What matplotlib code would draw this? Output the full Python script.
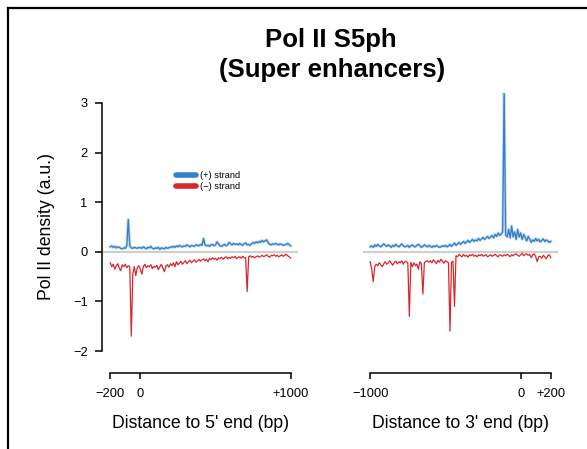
import numpy as np
import matplotlib
matplotlib.use("Agg")
import matplotlib.pyplot as plt
from matplotlib.lines import Line2D

plt.rcParams['font.family'] = ['Liberation Sans', 'DejaVu Sans']

# bins (bp) for the two panels
x5 = np.arange(-200, 1001, 10)
x3 = np.arange(-1000, 201, 10)

# 5' end, (+) strand
plus5 = [
    0.10, 0.12, 0.09, 0.11, 0.08, 0.10, 0.09, 0.07, 0.06, 0.08,
    0.07, 0.12, 0.65, 0.12, 0.08, 0.07, 0.09, 0.08, 0.07, 0.09,
    0.08, 0.07, 0.10, 0.08, 0.06, 0.09, 0.08, 0.11, 0.07, 0.06,
    0.08, 0.07, 0.09, 0.05, 0.08, 0.07, 0.06, 0.09, 0.07, 0.08,
    0.10, 0.09, 0.11, 0.09, 0.12, 0.10, 0.13, 0.11, 0.10, 0.12,
    0.11, 0.14, 0.12, 0.10, 0.13, 0.12, 0.11, 0.14, 0.13, 0.12,
    0.15, 0.13, 0.27, 0.14, 0.12, 0.13, 0.11, 0.14, 0.15, 0.12,
    0.14, 0.20, 0.16, 0.12, 0.11, 0.13, 0.15, 0.12, 0.14, 0.19,
    0.16, 0.14, 0.17, 0.15, 0.16, 0.14, 0.17, 0.15, 0.13, 0.16,
    0.18, 0.14, 0.15, 0.13, 0.16, 0.19, 0.17, 0.20, 0.18, 0.21,
    0.19, 0.23, 0.20, 0.22, 0.24, 0.18, 0.15, 0.14, 0.16, 0.15,
    0.17, 0.15, 0.14, 0.16, 0.15, 0.13, 0.14, 0.15, 0.17, 0.14,
    0.12,
]

# 5' end, (-) strand
minus5 = [
    -0.22, -0.30, -0.25, -0.35, -0.28, -0.24, -0.33, -0.38, -0.26, -0.30,
    -0.25, -0.32, -0.28, -0.30, -1.70, -0.45, -0.30, -0.48, -0.32, -0.28,
    -0.35, -0.45, -0.30, -0.25, -0.32, -0.28, -0.30, -0.26, -0.34, -0.29,
    -0.31, -0.27, -0.36, -0.30, -0.25, -0.33, -0.40, -0.29, -0.26, -0.31,
    -0.24, -0.28, -0.22, -0.30, -0.20, -0.26, -0.23, -0.19, -0.25, -0.21,
    -0.18, -0.24, -0.20, -0.17, -0.22, -0.19, -0.16, -0.21, -0.18, -0.15,
    -0.19, -0.16, -0.14, -0.18, -0.15, -0.20, -0.13, -0.16, -0.12, -0.15,
    -0.13, -0.17, -0.12, -0.14, -0.11, -0.15, -0.12, -0.10, -0.14, -0.11,
    -0.13, -0.10, -0.12, -0.09, -0.14, -0.11, -0.10, -0.13, -0.09, -0.12,
    -0.12, -0.80, -0.10, -0.08, -0.11, -0.09, -0.12, -0.10, -0.08, -0.11,
    -0.09, -0.07, -0.10, -0.08, -0.06, -0.09, -0.11, -0.07, -0.08, -0.06,
    -0.09, -0.07, -0.10, -0.08, -0.06, -0.09, -0.07, -0.05, -0.08, -0.10,
    -0.13,
]

# 3' end, (+) strand
plus3 = [
    0.10, 0.12, 0.09, 0.14, 0.11, 0.15, 0.12, 0.10, 0.13, 0.16,
    0.13, 0.11, 0.14, 0.12, 0.09, 0.13, 0.11, 0.15, 0.12, 0.10,
    0.13, 0.16, 0.12, 0.10, 0.11, 0.13, 0.09, 0.12, 0.14, 0.11,
    0.10, 0.13, 0.15, 0.12, 0.09, 0.11, 0.14, 0.12, 0.10, 0.13,
    0.11, 0.09, 0.12, 0.10, 0.13, 0.11, 0.09, 0.10, 0.12, 0.11,
    0.13, 0.10, 0.12, 0.15, 0.11, 0.14, 0.18, 0.13, 0.16, 0.19,
    0.15, 0.18, 0.21, 0.17, 0.20, 0.23, 0.19, 0.22, 0.25, 0.21,
    0.24, 0.22, 0.27, 0.23, 0.26, 0.29, 0.25, 0.28, 0.31, 0.27,
    0.30, 0.33, 0.28, 0.35, 0.31, 0.38, 0.33, 0.36, 0.40, 3.20,
    0.34, 0.30, 0.45, 0.28, 0.52, 0.30, 0.40, 0.25, 0.45, 0.30,
    0.38, 0.25, 0.35, 0.29, 0.22, 0.31, 0.26, 0.19, 0.24, 0.21,
    0.27, 0.22, 0.25, 0.20, 0.23, 0.26, 0.21, 0.24, 0.22, 0.19,
    0.21,
]

# 3' end, (-) strand
minus3 = [
    -0.20, -0.35, -0.60, -0.30, -0.25, -0.28, -0.22, -0.26, -0.30, -0.24,
    -0.20, -0.25, -0.22, -0.18, -0.23, -0.27, -0.21, -0.19, -0.24, -0.20,
    -0.22, -0.18, -0.25, -0.20, -0.19, -0.23, -1.30, -0.21, -0.30, -0.22,
    -0.28, -0.25, -0.35, -0.20, -0.24, -0.85, -0.22, -0.19, -0.18, -0.21,
    -0.18, -0.22, -0.16, -0.20, -0.24, -0.17, -0.21, -0.15, -0.19, -0.23,
    -0.18, -0.20, -0.22, -1.60, -0.21, -0.19, -1.10, -0.08, -0.10, -0.05,
    -0.08, -0.10, -0.05, -0.09, -0.07, -0.11, -0.06, -0.08, -0.05, -0.09,
    -0.07, -0.10, -0.06, -0.08, -0.05, -0.09, -0.07, -0.06, -0.10, -0.08,
    -0.06, -0.09, -0.07, -0.05, -0.08, -0.10, -0.06, -0.07, -0.09, -0.06,
    -0.08, -0.05, -0.07, -0.10, -0.06, -0.08, -0.05, -0.04, -0.07, -0.09,
    -0.06, -0.03, -0.08, -0.05, -0.04, -0.07, -0.05, -0.12, -0.06, -0.04,
    -0.10, -0.20, -0.10, -0.09, -0.13, -0.07, -0.10, -0.14, -0.08, -0.06,
    -0.12,
]

blue = '#3580cc'
red = '#d9262c'

W, H = 587, 449
fig = plt.figure(figsize=(W / 100, H / 100), dpi=100)

def px_axes(x0, x1, ytop, ybot):
    return fig.add_axes([x0 / W, 1 - ybot / H, (x1 - x0) / W, (ybot - ytop) / H])

ax1 = px_axes(103, 298, 93, 361)
ax2 = px_axes(363, 558, 93, 361)

panels = [
    (ax1, x5, plus5, minus5, [-200, 0, 1000], ['\u2212200', '0', '+1000'],
     "Distance to 5' end (bp)", (-248, 1048)),
    (ax2, x3, plus3, minus3, [-1000, 0, 200], ['\u22121000', '0', '+200'],
     "Distance to 3' end (bp)", (-1048, 248)),
]

for ax, x, p, m, ticks, labels, xlab, xlim in panels:
    ax.axhline(0, color='#cfcfcf', lw=1.6, zorder=1)
    ax.plot(x, p, color=blue, lw=2.2, alpha=0.25, zorder=2)
    ax.plot(x, p, color=blue, lw=1.0, zorder=3)
    ax.plot(x, m, color=red, lw=0.9, zorder=3)
    ax.set_xlim(*xlim)
    ax.set_ylim(-2.2, 3.2)
    for s in ['top', 'right']:
        ax.spines[s].set_visible(False)
    ax.spines['bottom'].set_position(('outward', 8.6))
    ax.spines['bottom'].set_bounds(ticks[0], ticks[-1])
    ax.spines['bottom'].set_linewidth(1.1)
    ax.set_xticks(ticks)
    ax.set_xticklabels(labels)
    ax.tick_params(axis='x', direction='out', length=4, width=1.1, pad=7,
                   labelsize=9.3)
    ax.set_xlabel(xlab, fontsize=12.7, labelpad=11)
    ax.patch.set_alpha(0)

ax1.spines['left'].set_position(('outward', 1))
ax1.spines['left'].set_bounds(-2, 3)
ax1.spines['left'].set_linewidth(1.1)
ax1.set_yticks([-2, -1, 0, 1, 2, 3])
ax1.set_yticklabels(['\u22122', '\u22121', '0', '1', '2', '3'])
ax1.tick_params(axis='y', direction='out', length=5, width=1.1, pad=5,
                labelsize=9.3)
ax1.set_ylabel('Pol II density (a.u.)', fontsize=12.7, labelpad=13)

ax2.spines['left'].set_visible(False)
ax2.set_yticks([])

handles = [Line2D([], [], color=blue, lw=4, solid_capstyle='round'),
           Line2D([], [], color=red, lw=4, solid_capstyle='round')]
fig.legend(handles, ['(+) strand', '(\u2212) strand'], loc='upper left',
           bbox_to_anchor=(176 / W, 1 - 171 / H), frameon=False, fontsize=6.7,
           handlelength=2.2, handletextpad=0.4, borderpad=0, borderaxespad=0,
           labelspacing=0.25)

fig.text(331 / W, 1 - 40 / H, 'Pol II S5ph', ha='center', va='center',
         fontsize=18.5, fontweight='bold')
fig.text(332 / W, 1 - 70 / H, '(Super enhancers)', ha='center', va='center',
         fontsize=18.5, fontweight='bold')

# outer frame (left and top edges visible)
fig.add_artist(Line2D([8 / W, 8 / W], [0, 1 - 8 / H], color='black', lw=1.6,
                      transform=fig.transFigure))
fig.add_artist(Line2D([8 / W, 1], [1 - 8 / H, 1 - 8 / H], color='black', lw=1.6,
                      transform=fig.transFigure))

fig.savefig('out.png', dpi=100)
